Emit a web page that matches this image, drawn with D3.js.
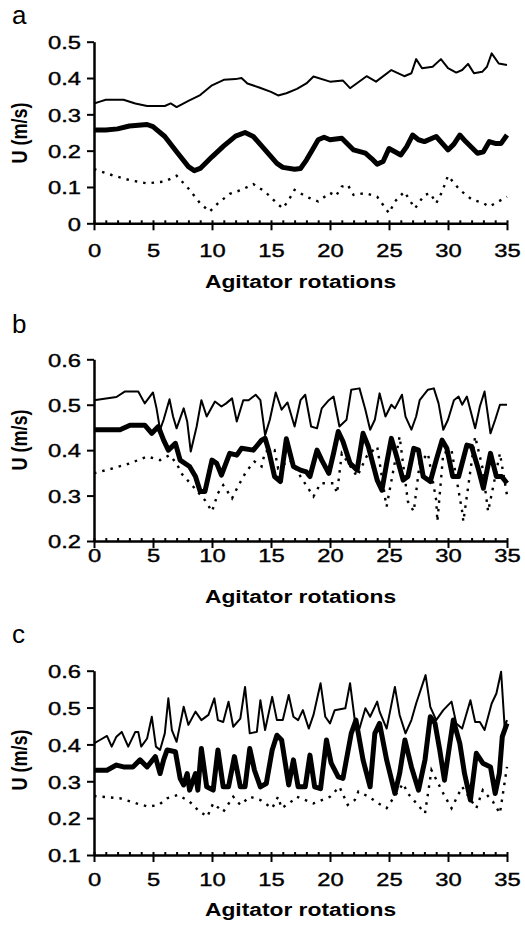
<!DOCTYPE html>
<html>
<head>
<meta charset="utf-8">
<script src="https://cdn.jsdelivr.net/npm/d3@7"></script>
<style>
  body { margin: 0; background: #fff; }
  text { font-family: "Liberation Sans", Arial, sans-serif; fill: #000; }
</style>
</head>
<body>
<svg id="chart"></svg>
<script>
// rotation number, velocity U (m/s)
const aThin = [[0,0.33],[0.5,0.335],[1,0.34],[2.5,0.34],[3.5,0.33],[4.5,0.323],[6,0.323],[6.5,0.33],[7,0.32],[8,0.337],[9,0.353],[10,0.38],[11,0.395],[12,0.397],[12.5,0.4],[13,0.385],[14,0.374],[15,0.362],[15.6,0.352],[16.3,0.358],[17.2,0.37],[18,0.385],[18.6,0.404],[20,0.39],[21.1,0.393],[21.7,0.372],[23.1,0.405],[23.9,0.39],[25.2,0.422],[26.3,0.405],[26.9,0.413],[27.3,0.452],[27.8,0.427],[28.7,0.431],[29.4,0.452],[30,0.427],[30.7,0.415],[31.2,0.422],[31.7,0.439],[32.2,0.413],[32.9,0.417],[33.3,0.431],[33.7,0.468],[34.3,0.44],[35,0.436]];
const aThick = [[0,0.257],[1,0.257],[2,0.26],[3,0.268],[4.5,0.272],[5,0.266],[6,0.239],[7,0.197],[8,0.156],[8.5,0.145],[9,0.151],[10,0.183],[11,0.213],[12,0.24],[12.8,0.25],[13.5,0.239],[14.5,0.202],[15.5,0.165],[16,0.154],[17,0.149],[17.5,0.151],[18,0.174],[18.5,0.202],[19,0.23],[19.5,0.237],[20,0.23],[21,0.234],[22,0.202],[23,0.193],[23.5,0.179],[24,0.163],[24.5,0.17],[25,0.206],[25.5,0.197],[26,0.188],[26.5,0.211],[27,0.243],[27.5,0.23],[28,0.225],[29,0.239],[30,0.202],[30.5,0.218],[31,0.243],[31.5,0.225],[32.5,0.193],[33,0.197],[33.5,0.225],[34,0.22],[34.5,0.22],[35,0.243]];
const aDot = [[0,0.149],[1.5,0.133],[3,0.119],[4.5,0.11],[6,0.115],[7,0.131],[8,0.096],[9,0.055],[9.8,0.032],[10.5,0.055],[11.5,0.081],[12.5,0.092],[13.5,0.108],[14.5,0.087],[15.5,0.055],[16,0.041],[16.5,0.064],[17,0.092],[18,0.073],[19,0.06],[20,0.084],[20.5,0.075],[21,0.101],[21.5,0.106],[22,0.078],[23,0.083],[24,0.073],[25,0.028],[25.5,0.06],[26.3,0.087],[27.2,0.041],[28,0.078],[28.5,0.083],[29,0.055],[29.5,0.087],[30,0.131],[31,0.092],[32,0.066],[33,0.055],[33.5,0.046],[34,0.055],[35,0.073]];

const bThin = [[0,0.51],[1.9,0.517],[2.6,0.529],[3.75,0.529],[4.3,0.503],[5,0.527],[5.3,0.492],[5.6,0.445],[5.9,0.467],[6.4,0.512],[6.7,0.474],[7,0.448],[7.6,0.492],[7.9,0.463],[8.2,0.397],[8.7,0.452],[9.1,0.51],[9.55,0.474],[10.25,0.507],[10.8,0.496],[11.2,0.503],[11.7,0.514],[12.1,0.463],[12.65,0.51],[13.1,0.51],[13.7,0.522],[14.1,0.51],[14.5,0.433],[14.9,0.467],[15.4,0.527],[15.9,0.489],[16.4,0.505],[17,0.452],[17.5,0.51],[17.9,0.522],[18.4,0.452],[18.9,0.448],[19.3,0.492],[19.9,0.51],[20.3,0.518],[20.8,0.452],[21.4,0.467],[21.8,0.533],[22.5,0.536],[23,0.489],[23.4,0.445],[23.8,0.467],[24.2,0.525],[24.7,0.474],[25.2,0.5],[25.5,0.492],[26.1,0.522],[26.4,0.474],[26.9,0.445],[27.3,0.474],[27.6,0.51],[28.3,0.533],[28.8,0.536],[29.2,0.503],[29.6,0.445],[30,0.467],[30.5,0.51],[30.9,0.518],[31.2,0.5],[31.6,0.518],[32.3,0.448],[32.7,0.496],[33.1,0.529],[33.6,0.437],[34,0.467],[34.4,0.5],[35,0.5]];
const bThick = [[0,0.445],[2.2,0.445],[3.05,0.455],[4.3,0.455],[4.9,0.437],[5.45,0.452],[5.9,0.422],[6.3,0.4],[6.9,0.415],[7.3,0.378],[8.1,0.364],[8.6,0.342],[9,0.309],[9.4,0.309],[10,0.378],[10.4,0.371],[10.8,0.345],[11.5,0.393],[12.1,0.389],[12.5,0.404],[13.5,0.4],[14.2,0.422],[14.5,0.426],[14.8,0.4],[15.3,0.342],[15.8,0.331],[16.3,0.425],[16.9,0.364],[17.5,0.356],[18,0.352],[18.3,0.342],[18.9,0.4],[19.3,0.378],[19.9,0.349],[20.3,0.393],[20.7,0.441],[21.1,0.419],[21.7,0.371],[22.3,0.356],[22.8,0.437],[23.25,0.408],[24,0.334],[24.4,0.312],[24.8,0.371],[25.2,0.426],[25.65,0.386],[26.2,0.334],[26.6,0.342],[27.1,0.404],[27.5,0.4],[27.9,0.342],[28.5,0.331],[29,0.378],[29.5,0.422],[29.9,0.404],[30.4,0.342],[30.9,0.342],[31.6,0.411],[32,0.408],[32.6,0.356],[33,0.316],[33.6,0.393],[34.1,0.342],[34.55,0.342],[35,0.327]];
const bDot = [[0,0.349],[1.6,0.36],[3.05,0.371],[4.5,0.386],[5.6,0.378],[6.4,0.389],[7,0.371],[7.4,0.349],[8.4,0.32],[9.4,0.29],[10,0.265],[10.5,0.305],[10.95,0.323],[11.7,0.294],[12.2,0.32],[12.9,0.353],[13.6,0.375],[14.2,0.364],[14.5,0.397],[15.3,0.4],[15.6,0.36],[16.6,0.378],[17.7,0.334],[18.6,0.298],[19.2,0.327],[20.3,0.327],[20.6,0.305],[21,0.393],[22.3,0.342],[23.1,0.386],[24,0.408],[24.7,0.29],[24.8,0.276],[25.9,0.43],[26.6,0.287],[27.1,0.265],[27.6,0.371],[28.3,0.393],[29,0.29],[29.1,0.243],[29.6,0.393],[30.3,0.4],[31.2,0.265],[31.3,0.243],[32.3,0.43],[32.9,0.364],[33.4,0.265],[34.4,0.393],[35,0.301]];

const cThin = [[0,0.403],[0.5,0.412],[1.1,0.423],[1.5,0.394],[1.9,0.421],[2.35,0.434],[2.9,0.394],[3.5,0.434],[3.75,0.434],[4,0.394],[4.5,0.416],[4.9,0.475],[5.25,0.394],[5.6,0.385],[6,0.43],[6.3,0.525],[6.6,0.439],[7,0.407],[7.6,0.502],[8,0.453],[8.6,0.489],[9.1,0.466],[9.7,0.48],[10.2,0.525],[10.5,0.466],[10.95,0.461],[11.4,0.516],[11.8,0.448],[12.4,0.47],[12.8,0.556],[13.2,0.43],[13.8,0.434],[14.1,0.52],[14.5,0.439],[15.1,0.529],[15.5,0.466],[16,0.466],[16.5,0.534],[16.9,0.475],[17.3,0.466],[17.7,0.493],[18.2,0.443],[18.6,0.48],[19.2,0.566],[19.6,0.475],[20,0.457],[20.4,0.493],[21.3,0.498],[21.7,0.566],[22.1,0.466],[22.5,0.443],[23,0.498],[23.4,0.475],[24,0.516],[24.2,0.489],[24.8,0.443],[25.5,0.556],[25.9,0.48],[26.4,0.43],[26.9,0.466],[27.3,0.511],[28.1,0.588],[28.5,0.502],[29,0.466],[29.6,0.493],[30.3,0.516],[30.7,0.457],[31.2,0.443],[31.9,0.52],[32.3,0.461],[32.7,0.461],[33.1,0.439],[33.7,0.511],[34.1,0.538],[34.5,0.597],[34.8,0.448],[35,0.466]];
const cThick = [[0,0.33],[1.1,0.33],[1.9,0.344],[2.5,0.339],[3.3,0.339],[3.9,0.358],[4.5,0.339],[5.2,0.367],[5.6,0.321],[5.9,0.358],[6.2,0.385],[6.9,0.38],[7.3,0.308],[7.6,0.29],[7.9,0.321],[8.1,0.276],[8.6,0.321],[8.8,0.276],[9.1,0.389],[9.55,0.285],[10.1,0.276],[10.5,0.385],[10.95,0.285],[11.4,0.285],[11.9,0.367],[12.4,0.285],[12.8,0.285],[13.2,0.389],[13.6,0.33],[14.1,0.285],[14.6,0.294],[15.1,0.385],[15.5,0.425],[15.9,0.412],[16.5,0.29],[16.9,0.358],[17.3,0.285],[17.9,0.285],[18.3,0.371],[18.7,0.285],[19.2,0.28],[19.7,0.412],[20.1,0.349],[20.7,0.312],[21.1,0.308],[21.8,0.43],[22.2,0.466],[22.8,0.358],[23.4,0.285],[23.8,0.43],[24.2,0.457],[24.8,0.358],[25.5,0.267],[25.9,0.321],[26.35,0.412],[26.9,0.339],[27.5,0.276],[28.05,0.358],[28.5,0.475],[28.9,0.457],[29.3,0.385],[29.7,0.303],[30.2,0.412],[30.45,0.466],[31,0.403],[31.4,0.321],[31.9,0.249],[32.4,0.376],[32.95,0.349],[33.6,0.339],[34,0.267],[34.35,0.321],[34.6,0.421],[35,0.457]];
const cDot = [[0,0.26],[2.2,0.254],[3.6,0.24],[4.6,0.231],[5.5,0.236],[6.2,0.254],[7.1,0.263],[8.1,0.245],[8.8,0.222],[9.6,0.204],[10.1,0.24],[10.95,0.217],[11.8,0.258],[12.4,0.236],[13.2,0.258],[14.1,0.249],[15.1,0.227],[15.6,0.258],[15.9,0.227],[16.9,0.249],[17.2,0.258],[18.6,0.24],[20,0.258],[20.8,0.285],[21.5,0.236],[22.1,0.249],[22.4,0.272],[23.3,0.258],[24.1,0.24],[24.8,0.227],[26.2,0.294],[26.6,0.267],[28.05,0.213],[28.6,0.33],[29.6,0.267],[30.3,0.227],[31.2,0.285],[32.4,0.227],[32.95,0.276],[33.8,0.245],[34.4,0.213],[35,0.339]];

const xTicks = [0, 5, 10, 15, 20, 25, 30, 35];
const aYTicks = [0, 0.1, 0.2, 0.3, 0.4, 0.5];
const bYTicks = [0.2, 0.3, 0.4, 0.5, 0.6];
const cYTicks = [0.1, 0.2, 0.3, 0.4, 0.5, 0.6];

const width = 525, height = 928;
const left = 94, right = 507;
const sx = 1.25; // glyphs in the source are horizontally stretched

const panels = [
  { name: 'a', thin: aThin, thick: aThick, dot: aDot, yTicks: aYTicks, top: 41.7, bottom: 223.3, nameY: 24, labelGap: 20, titleY: 288, yTitleY: 133 },
  { name: 'b', thin: bThin, thick: bThick, dot: bDot, yTicks: bYTicks, top: 359.3, bottom: 541, nameY: 333, labelGap: 8, titleY: 603, yTitleY: 440 },
  { name: 'c', thin: cThin, thick: cThick, dot: cDot, yTicks: cYTicks, top: 670.7, bottom: 855, nameY: 643, labelGap: 18, titleY: 916, yTitleY: 760 }
];

const svg = d3.select('#chart').attr('width', width).attr('height', height);

const x = d3.scaleLinear().domain([0, 35]).range([left, right]);

panels.forEach(p => {
  const y = d3.scaleLinear().domain(d3.extent(p.yTicks)).range([p.bottom, p.top]);
  const g = svg.append('g');

  // panel letter
  g.append('text')
    .attr('x', 12).attr('y', p.nameY)
    .style('font-size', '26px')
    .text(p.name);

  const line = d3.line().x(d => x(d[0])).y(d => y(d[1]));

  g.append('path').datum(p.dot)
    .attr('fill', 'none').attr('stroke', '#000')
    .attr('stroke-width', 2.4).attr('stroke-dasharray', '2.5,6')
    .attr('d', line);
  g.append('path').datum(p.thin)
    .attr('fill', 'none').attr('stroke', '#000')
    .attr('stroke-width', 2).attr('stroke-linejoin', 'round')
    .attr('d', line);
  g.append('path').datum(p.thick)
    .attr('fill', 'none').attr('stroke', '#000')
    .attr('stroke-width', 5).attr('stroke-linejoin', 'round')
    .attr('d', line);

  // y axis
  const yAxis = g.append('g')
    .attr('transform', `translate(${left},0)`)
    .call(d3.axisLeft(y).tickValues(p.yTicks).tickSize(7).tickSizeOuter(0)
      .tickFormat(d => d === 0 ? '0' : d3.format('.1f')(d)));
  yAxis.select('.domain').attr('stroke-width', 2.5);
  yAxis.selectAll('.tick line').attr('stroke-width', 2);
  yAxis.selectAll('.tick text')
    .style('font-size', '19px')
    .attr('x', -13 / sx).attr('dy', '0.36em')
    .attr('transform', `scale(${sx},1)`);

  // minor ticks every rotation
  const minor = g.append('g')
    .attr('transform', `translate(0,${p.bottom})`)
    .call(d3.axisBottom(x).tickValues(d3.range(0, 36)).tickSize(-3).tickFormat(''));
  minor.select('.domain').remove();
  minor.selectAll('.tick line').attr('stroke-width', 2);

  // x axis
  const xAxis = g.append('g')
    .attr('transform', `translate(0,${p.bottom})`)
    .call(d3.axisBottom(x).tickValues(xTicks).tickSize(7).tickSizeOuter(0));
  xAxis.select('.domain').attr('stroke-width', 2.5);
  xAxis.selectAll('.tick line').attr('stroke-width', 2);
  xAxis.selectAll('.tick text')
    .style('font-size', '19px')
    .attr('y', p.labelGap).attr('dy', '0.71em')
    .attr('transform', `scale(${sx},1)`);

  g.selectAll('.tick text')
    .style('fill', '#000').style('stroke', '#000').style('stroke-width', 0.4)
    .style('font-family', '"Liberation Sans", Arial, sans-serif');

  // axis titles
  g.append('text')
    .attr('transform', `translate(${(left + right) / 2},${p.titleY}) scale(1.2,1)`)
    .attr('text-anchor', 'middle')
    .style('font-size', '19px').style('font-weight', 'bold')
    .text('Agitator rotations');

  g.append('text')
    .attr('transform', `translate(27,${p.yTitleY}) rotate(-90) scale(1,1.25)`)
    .attr('text-anchor', 'middle')
    .style('font-size', '18px').style('font-weight', 'bold')
    .text('U (m/s)');
});
</script>
</body>
</html>
